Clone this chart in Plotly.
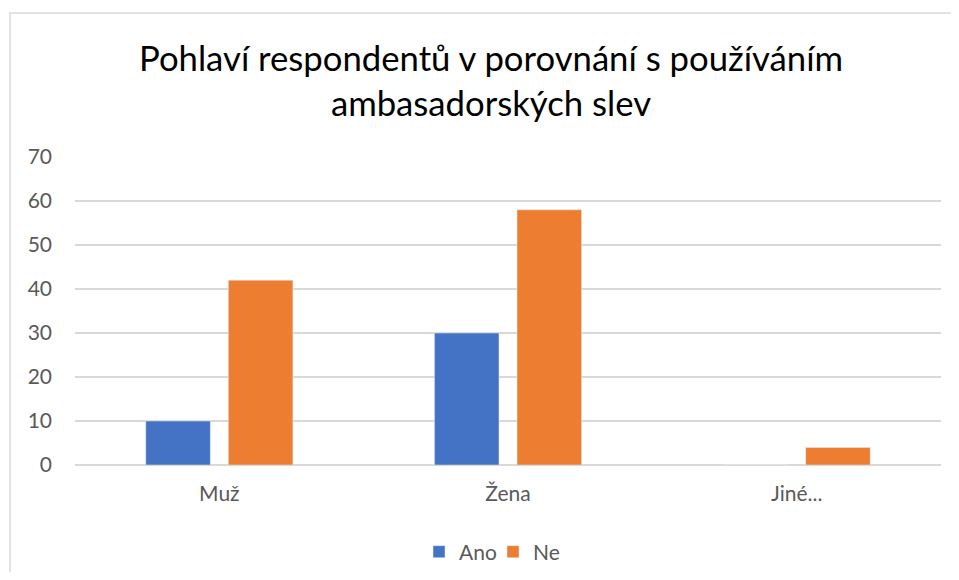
import plotly.graph_objects as go

categories = ["Muž", "Žena", "Jiné..."]
ano = [10, 30, 0]
ne = [42, 58, 4]
series_names = ["Ano", "Ne"]
tick_vals = [0, 10, 20, 30, 40, 50, 60, 70]
title_text = "Pohlaví respondentů v porovnání s používáním<br>ambasadorských slev"

# page body has an 8px margin; figure coords = screen coords - 8
W, H = 943, 564
L, R, T, B = 67, 10, 149, 107
pw = W - L - R
ph = H - T - B

fig = go.Figure()
fig.add_trace(go.Bar(name=series_names[0], x=categories, y=ano, marker_color="#4472C4"))
fig.add_trace(go.Bar(name=series_names[1], x=categories, y=ne, marker_color="#ED7D31"))

font = "Lato, 'Open Sans', sans-serif"
fig.update_layout(
    width=W, height=H,
    margin=dict(l=L, r=R, t=T, b=B),
    paper_bgcolor="white", plot_bgcolor="white",
    barmode="group", bargap=0.428, bargroupgap=0.218,
    font=dict(family=font, color="#595959", size=21),
    title=dict(text=title_text, x=483 / W, xanchor="center", xref="container",
               y=1 - 63 / H, yanchor="middle", yref="container",
               font=dict(family=font, size=34.7, color="#000000")),
    legend=dict(orientation="h", x=485 / W, xanchor="center", xref="container",
                y=1 - 544 / H, yanchor="middle", yref="container",
                font=dict(size=21, color="#595959"), itemwidth=30,
                entrywidth=29, entrywidthmode="pixels",
                traceorder="normal"),
    xaxis=dict(showgrid=False, showline=False, ticks="", ticklabelstandoff=14,
               tickfont=dict(size=21, color="#595959")),
    yaxis=dict(range=[0, 70], tickvals=tick_vals, showgrid=True, gridcolor="#D9D9D9",
               gridwidth=1.5, zeroline=True, zerolinecolor="#D9D9D9", zerolinewidth=1.5,
               showline=False, ticks="", ticklabelstandoff=22,
               tickfont=dict(size=21, color="#595959")),
    shapes=[dict(type="rect", xref="paper", yref="paper",
                 x0=(2 - L) / pw, x1=(990 - L) / pw,
                 y0=(T + ph - 600) / ph, y1=(T + ph - 5) / ph,
                 line=dict(color="#D9D9D9", width=1.5), fillcolor="rgba(0,0,0,0)",
                 layer="below")],
)
fig.write_html("out.html")
